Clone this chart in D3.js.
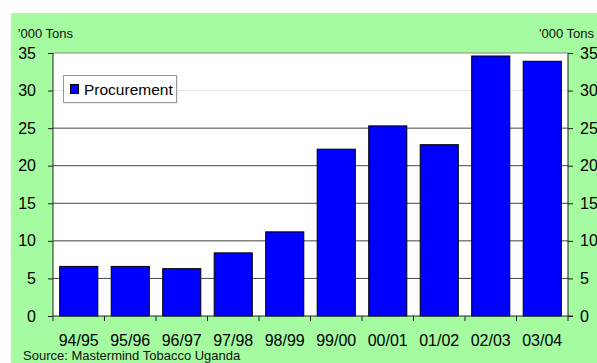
<!DOCTYPE html>
<html>
<head>
<meta charset="utf-8">
<script src="https://cdn.jsdelivr.net/npm/d3@7"></script>
<style>
  html, body { margin: 0; padding: 0; background: #fff; }
  svg { display: block; font-family: "Liberation Sans", Arial, sans-serif; }
</style>
</head>
<body>
<svg id="chart" width="597" height="363"></svg>
<script>
// Tobacco procurement by season, '000 tons
const seasons = ["94/95", "95/96", "96/97", "97/98", "98/99", "99/00", "00/01", "01/02", "02/03", "03/04"];
const procurement = [6.6, 6.6, 6.3, 8.4, 11.2, 22.2, 25.3, 22.8, 34.6, 33.9];
const yTicks = [0, 5, 10, 15, 20, 25, 30, 35];
const unitLabel = "'000 Tons";
const seriesName = "Procurement";
const sourceNote = "Source: Mastermind Tobacco Uganda";

const svg = d3.select("#chart");
const W = 597, H = 363;
const plot = { left: 53, right: 568, top: 53, bottom: 316 };

// green panel behind the chart
svg.append("rect")
  .attr("x", 11).attr("y", 13)
  .attr("width", W - 11).attr("height", H - 13)
  .attr("fill", "#a4fba0");

// white plot area
svg.append("rect")
  .attr("x", plot.left).attr("y", plot.top)
  .attr("width", plot.right - plot.left).attr("height", plot.bottom - plot.top)
  .attr("fill", "#ffffff");

const x = d3.scaleBand()
  .domain(seasons)
  .range([plot.left, plot.right])
  .paddingInner(0.26)
  .paddingOuter(0.13);

const y = d3.scaleLinear()
  .domain([0, 35])
  .range([plot.bottom, plot.top]);

// horizontal gridlines (the 30 line is drawn faint)
svg.append("g")
  .selectAll("line")
  .data(yTicks.filter(t => t > 0 && t < 35))
  .join("line")
  .attr("x1", plot.left).attr("x2", plot.right)
  .attr("y1", d => y(d)).attr("y2", d => y(d))
  .attr("stroke", d => d === 30 ? "#e4e4e4" : "#444")
  .attr("stroke-width", 1);

// top border of plot area
svg.append("line")
  .attr("x1", plot.left).attr("x2", plot.right)
  .attr("y1", y(35)).attr("y2", y(35))
  .attr("stroke", "#888");

// bars
svg.append("g")
  .selectAll("rect")
  .data(seasons.map((s, i) => ({ s, v: procurement[i] })))
  .join("rect")
  .attr("x", d => x(d.s))
  .attr("y", d => y(d.v))
  .attr("width", x.bandwidth())
  .attr("height", d => y(0) - y(d.v))
  .attr("fill", "#0000ff")
  .attr("stroke", "#000")
  .attr("stroke-width", 1);

// left axis
const leftAxis = svg.append("g")
  .attr("transform", `translate(${plot.left},0)`)
  .call(d3.axisLeft(y).tickValues(yTicks).tickSize(5).tickPadding(12).tickFormat(d3.format("d")));

// right axis
const rightAxis = svg.append("g")
  .attr("transform", `translate(${plot.right},0)`)
  .call(d3.axisRight(y).tickValues(yTicks).tickSize(5).tickPadding(7).tickFormat(d3.format("d")));

[leftAxis, rightAxis].forEach(g => {
  g.select(".domain").attr("stroke", "#222").attr("d", `M0,${plot.top}V${plot.bottom}`);
  g.selectAll(".tick line").attr("stroke", "#222");
  g.selectAll(".tick text")
    .attr("fill", "#000")
    .style("font-size", "16px")
    .style("font-family", "'Liberation Sans', Arial, sans-serif");
});

// bottom axis: ticks at category boundaries
const bottom = svg.append("g").attr("transform", `translate(0,${plot.bottom})`);
bottom.append("line")
  .attr("x1", plot.left).attr("x2", plot.right + 5)
  .attr("y1", 0).attr("y2", 0)
  .attr("stroke", "#222");
const step = (plot.right - plot.left) / seasons.length;
bottom.selectAll("line.tk")
  .data(d3.range(seasons.length + 1))
  .join("line")
  .attr("class", "tk")
  .attr("x1", i => plot.left + i * step).attr("x2", i => plot.left + i * step)
  .attr("y1", 0).attr("y2", 5)
  .attr("stroke", "#222");
bottom.selectAll("text")
  .data(seasons)
  .join("text")
  .attr("x", d => x(d) + x.bandwidth() / 2)
  .attr("y", 29.5)
  .attr("text-anchor", "middle")
  .style("font-size", "16px")
  .attr("fill", "#000")
  .text(d => d);

// unit labels
svg.append("text")
  .attr("x", 18).attr("y", 38)
  .style("font-size", "13px")
  .attr("fill", "#111")
  .text(unitLabel);
svg.append("text")
  .attr("x", 594).attr("y", 38)
  .attr("text-anchor", "end")
  .style("font-size", "13px")
  .attr("fill", "#111")
  .text(unitLabel);

// legend
const legend = svg.append("g");
legend.append("rect")
  .attr("x", 64.5).attr("y", 76.5)
  .attr("width", 113).attr("height", 27)
  .attr("fill", "#d8d8d8");
legend.append("rect")
  .attr("x", 63.5).attr("y", 75.5)
  .attr("width", 113).attr("height", 27)
  .attr("fill", "#fff")
  .attr("stroke", "#999");
legend.append("rect")
  .attr("x", 70.5).attr("y", 84.5)
  .attr("width", 8).attr("height", 9)
  .attr("fill", "#0000ff")
  .attr("stroke", "#000");
legend.append("text")
  .attr("x", 84).attr("y", 95)
  .style("font-size", "15.5px")
  .attr("fill", "#000")
  .text(seriesName);

// source note
svg.append("text")
  .attr("x", 23).attr("y", 360)
  .style("font-size", "13px")
  .attr("fill", "#111")
  .text(sourceNote);
</script>
</body>
</html>
